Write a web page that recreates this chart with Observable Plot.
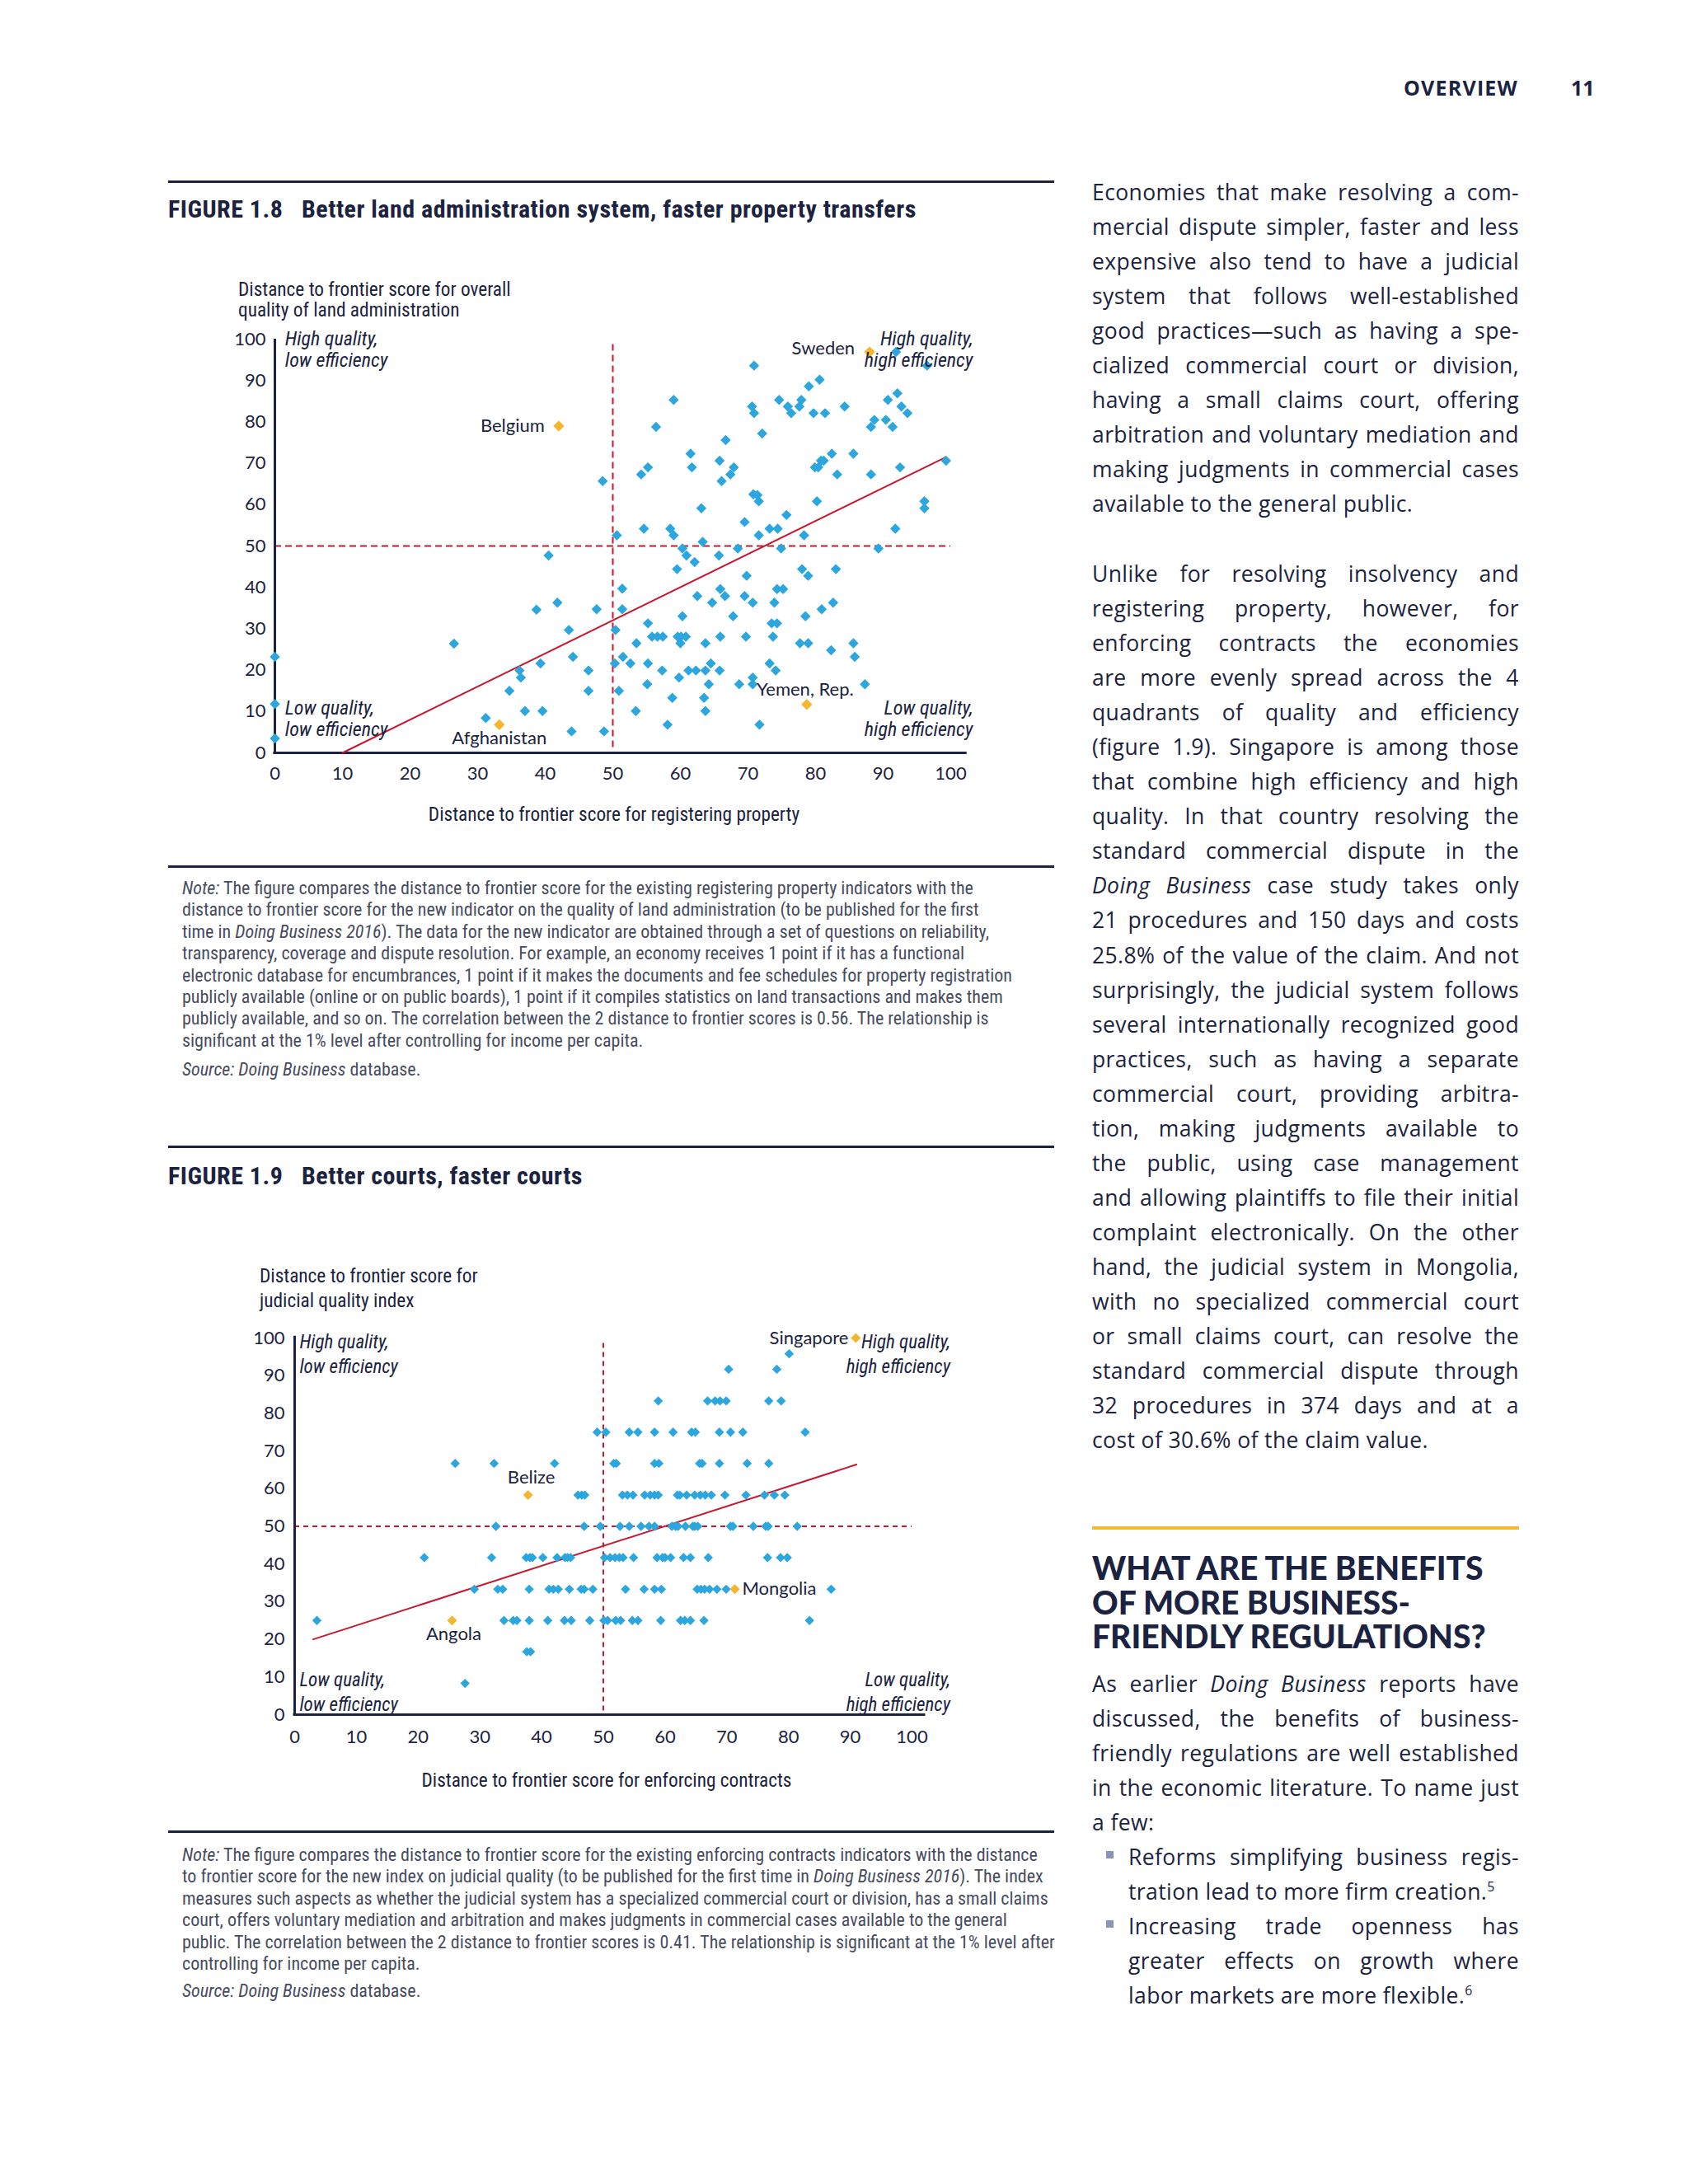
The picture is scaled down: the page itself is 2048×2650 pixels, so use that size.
<!DOCTYPE html>
<html><head><meta charset="utf-8">
<script src="https://cdn.jsdelivr.net/npm/d3@7"></script>
<script src="https://cdn.jsdelivr.net/npm/@observablehq/plot@0.6"></script>
<style>
html,body{margin:0;padding:0;background:#fff;}
#page{position:relative;width:2048px;height:2650px;background:#fff;overflow:hidden;color:#1b2340;font-family:"Open Sans",sans-serif;}
.abs{position:absolute;white-space:nowrap;}
.cond{font-family:"Liberation Sans Narrow","Roboto Condensed","DejaVu Sans Condensed","Roboto",sans-serif;}
.rule{position:absolute;left:204px;width:1075px;height:3px;background:#1b2340;}
.figno{font-weight:700;font-size:30px;line-height:34px;letter-spacing:0.5px;}
.ytitle{font-size:23.3px;color:#1b2340;}
.note{position:absolute;left:221px;font-size:22px;line-height:26.4px;color:#474c60;white-space:nowrap;}
.body{position:absolute;left:1325px;width:518px;font-size:26.5px;letter-spacing:0.4px;color:#1b2340;}
.body .ln{height:42.05px;line-height:42.05px;white-space:nowrap;}
.body .j{display:flex;justify-content:space-between;}
.head{position:absolute;left:1325px;font-family:"Lato","Open Sans",sans-serif;font-weight:900;font-size:39px;line-height:41.5px;color:#1b2340;white-space:nowrap;}
.bul{position:absolute;width:9px;height:9px;background:#8a93b8;}
sup{font-size:60%;line-height:0;vertical-align:super;}
</style></head>
<body>
<div id="page"></div>
<script>
// ---------------- DATA ----------------
const xTicks = [0,10,20,30,40,50,60,70,80,90,100];
const yTicks = [0,10,20,30,40,50,60,70,80,90,100];

// Figure 1.8: [registering property DTF, quality of land administration DTF]
const landPoints = [
 [56.4,78.8],[48.5,65.7],[54.2,67.3],[55.2,69.0],[50.6,52.6],[54.6,54.2],[40.5,47.7],[51.4,39.7],
 [91.9,96.9],[96.5,93.6],[70.9,93.6],[80.6,90.2],[79.0,88.6],[59.0,85.3],[74.6,85.3],[77.9,85.3],
 [70.6,83.7],[70.9,82.1],[75.9,83.7],[76.4,82.1],[77.6,83.7],[79.7,82.1],[81.4,82.1],[84.3,83.7],
 [92.1,86.9],[90.7,85.3],[92.7,83.7],[93.6,82.1],[88.7,80.5],[88.2,78.8],[90.4,80.5],[91.4,78.8],
 [72.1,77.2],[66.7,75.6],[61.5,72.3],[65.8,70.6],[61.7,69.0],[67.9,69.0],[67.4,67.3],[66.1,65.7],
 [82.4,72.3],[85.6,72.3],[80.8,70.6],[81.2,70.6],[79.9,69.0],[80.4,69.0],[83.2,67.3],[88.2,67.3],
 [92.5,69.0],[99.3,70.6],[70.8,62.5],[71.4,62.3],[71.6,60.8],[80.2,60.8],[96.1,60.8],[96.1,59.1],
 [63.1,59.1],[75.7,57.5],[69.5,55.8],[58.5,54.2],[59.0,52.6],[73.2,54.2],[74.4,54.2],[71.6,52.6],
 [78.3,52.6],[91.8,54.2],[63.3,51.0],[60.3,49.4],[60.9,47.7],[62.1,46.1],[59.5,44.4],[65.7,47.7],
 [68.5,49.4],[74.9,49.4],[69.8,42.8],[78.0,44.4],[78.9,42.8],[83.0,44.4],[89.3,49.4],[65.9,39.6],
 [74.3,39.6],[75.2,39.6],[66.6,37.9],[62.5,37.9],[69.5,37.9],[64.7,36.3],[70.7,36.3],[73.9,36.3],
 [47.6,34.7],[51.4,34.7],[60.3,33.0],[67.8,33.0],[78.5,33.0],[80.9,34.7],[82.6,36.3],[55.2,31.3],
 [73.5,31.3],[74.3,31.3],[50.4,29.7],[55.8,28.1],[56.6,28.1],[57.4,28.1],[59.6,28.1],[60.1,28.1],
 [60.8,28.1],[60.0,26.5],[53.5,26.5],[63.7,26.5],[65.9,28.1],[69.7,28.1],[73.7,28.1],[77.7,26.5],
 [78.9,26.5],[85.6,26.5],[82.3,24.8],[85.8,23.2],[51.5,23.2],[46.4,19.9],[50.3,21.6],[52.6,21.6],
 [55.2,21.6],[57.3,19.9],[59.8,18.2],[61.2,19.9],[62.3,19.9],[63.7,19.9],[64.5,21.6],[65.8,19.9],
 [64.2,16.6],[55.1,16.6],[50.9,15.0],[46.4,15.0],[58.8,13.3],[63.5,13.3],[53.4,10.1],[63.7,10.1],
 [58.1,6.8],[48.7,5.2],[71.7,6.8],[68.7,16.6],[70.7,18.2],[70.7,16.6],[73.2,21.6],[74.1,19.9],
 [87.3,16.6],[0,23.2],[0,11.8],[0,3.5],[26.5,26.4],[38.7,34.6],[41.8,36.3],[43.5,29.7],
 [36.2,19.9],[36.4,18.2],[39.3,21.6],[44.1,23.2],[34.7,15.0],[37.0,10.1],[39.6,10.1],[31.2,8.4],
 [43.9,5.2]
];
const landHighlights = [
 {name:"Belgium", x:42.0, y:79.0},
 {name:"Sweden", x:88.0, y:96.9},
 {name:"Afghanistan", x:33.2, y:6.8},
 {name:"Yemen, Rep.", x:78.7, y:11.7}
];
const landFit = [[10,0],[99.3,71.5]];

// Figure 1.9: judicial quality rows (y) and enforcing contracts DTF (x)
const courtRowY = [8.3, 16.7, 25, 33.3, 41.7, 50, 58.3, 66.7, 75, 83.3, 91.7, 95.8];
const courtRowX = [
 [27.6],
 [37.6,38.2],
 [3.6,33.9,35.4,36.0,38.0,41.0,43.7,44.8,47.8,50.1,50.7,52.0,52.8,54.7,55.6,59.3,62.5,63.2,64.1,66.3,83.4],
 [29.1,32.9,33.7,38.0,41.2,41.9,42.7,44.5,46.4,46.9,48.3,53.6,56.6,58.3,59.4,65.2,65.8,66.4,67.2,68.4,69.9,86.9],
 [21.0,31.9,37.5,38.1,38.5,40.2,42.5,43.8,44.2,44.7,50.2,51.1,51.9,52.6,53.2,54.9,58.7,59.6,60.0,60.9,63.0,64.1,67.0,76.6,78.7,79.8],
 [32.6,46.9,49.5,52.7,54.2,56.1,57.4,58.3,61.1,61.7,62.1,63.3,64.5,64.8,65.3,70.6,71.0,74.3,76.3,76.7,81.4],
 [45.9,46.5,47.0,53.1,53.9,54.8,56.7,57.6,58.3,58.9,62.0,62.4,63.5,64.8,65.7,66.5,67.5,69.7,73.1,76.1,77.7,79.4],
 [26.0,32.3,42.1,51.7,52.1,58.3,59.0,65.6,66.0,68.8,73.3,76.8],
 [49.0,50.4,54.2,55.6,58.3,61.3,64.3,64.9,68.8,70.6,72.6,82.7],
 [58.9,66.9,68.1,68.9,69.9,76.8,78.8],
 [70.3,78.1],
 [80.1]
];
const courtHighlights = [
 {name:"Singapore", x:90.9, y:100},
 {name:"Belize", x:37.8, y:58.3},
 {name:"Mongolia", x:71.3, y:33.3},
 {name:"Angola", x:25.5, y:25}
];
const courtFit = [[3,20],[91,66.4]];

// ---------------- STYLE ----------------
const blue = "#2ba6df", orange = "#f5b52e", red = "#c8182f", navy = "#1b2340";
const narrow = '"Liberation Sans Narrow","Roboto Condensed","DejaVu Sans Condensed",Roboto,sans-serif';
const page = document.getElementById("page");

function el(html, cls, style) {
  const d = document.createElement("div");
  d.className = cls || "abs";
  d.innerHTML = html;
  Object.assign(d.style, style || {});
  page.appendChild(d);
  return d;
}

// header
el("OVERVIEW", "abs", {left:"1703px", top:"90px", fontSize:"25px", fontWeight:"700", letterSpacing:"1.2px", lineHeight:"32px"});
el("11", "abs", {left:"1906px", top:"90px", fontSize:"25px", fontWeight:"700", lineHeight:"32px"});

// ---------------- FIGURE 1.8 ----------------
el("", "rule", {top:"219px"});
el("FIGURE 1.8", "abs cond figno", {left:"204px", top:"237px"});
el("Better land administration system, faster property transfers", "abs cond figno", {left:"366px", top:"237px"});
el("Distance to frontier score for overall<br>quality of land administration", "abs cond ytitle", {left:"289px", top:"339px", lineHeight:"25px"});

function quadLabels(opts) {
  const base = {fontStyle:"italic", fontSize:opts.fs, fontFamily:narrow, fill:navy, lineAnchor:"middle", lineHeight:opts.lh};
  return [
    Plot.text(["High quality,\nlow efficiency"], {...base, x:opts.xl, y:opts.yt, textAnchor:"start"}),
    Plot.text(["High quality,\nhigh efficiency"], {...base, x:opts.xr, y:opts.yt, textAnchor:"end"}),
    Plot.text(["Low quality,\nlow efficiency"], {...base, x:opts.xl, y:opts.yb, textAnchor:"start"}),
    Plot.text(["Low quality,\nhigh efficiency"], {...base, x:opts.xr, y:opts.yb, textAnchor:"end"})
  ];
}
function label(data, name, o) {
  return Plot.text(data.filter(d => d.name === name), {x:"x", y:"y", text:"name", fill:navy, fontSize:22, fontFamily:"Lato, sans-serif", ...o});
}

const fig18 = Plot.plot({
  width: 980, height: 640,
  marginLeft: 103, marginRight: 57, marginTop: 31, marginBottom: 107,
  style: {background:"transparent", color:navy, fontFamily:"Lato, sans-serif", fontSize:"22px", overflow:"visible"},
  x: {domain:[0,100], ticks:xTicks, tickSize:0, tickPadding:17, label:null},
  y: {domain:[0,100], ticks:yTicks, tickSize:0, tickPadding:11, label:null},
  marks: [
    Plot.ruleX([50], {y1:1.3, y2:99, stroke:red, strokeWidth:2, strokeDasharray:"8,5"}),
    Plot.ruleY([50], {x1:0, x2:100, stroke:red, strokeWidth:2, strokeDasharray:"8,5"}),
    Plot.ruleX([0], {y1:0, y2:100, stroke:navy, strokeWidth:3}),
    Plot.ruleY([0], {x1:-0.2, x2:102.4, stroke:navy, strokeWidth:3}),
    Plot.line(landFit, {x:d => d[0], y:d => d[1], stroke:red, strokeWidth:2}),
    Plot.dot(landPoints, {x:d => d[0], y:d => d[1], symbol:"diamond2", r:5.6, fill:blue}),
    Plot.dot(landHighlights, {x:"x", y:"y", symbol:"diamond2", r:6, fill:orange}),
    ...quadLabels({xl:1.5, xr:103.3, yt:97.6, yb:8.4, lh:1.1, fs:24}),
    label(landHighlights, "Belgium", {textAnchor:"end", dx:-17}),
    label(landHighlights, "Sweden", {textAnchor:"end", dx:-18, dy:-4}),
    label(landHighlights, "Afghanistan", {dy:17}),
    label(landHighlights, "Yemen, Rep.", {dx:-2, dy:-18})
  ]
});
const w18 = document.createElement("div");
Object.assign(w18.style, {position:"absolute", left:"230px", top:"380px"});
w18.appendChild(fig18);
page.appendChild(w18);

el("Distance to frontier score for registering property", "abs cond ytitle", {left:"745px", top:"975px", transform:"translateX(-50%)", lineHeight:"26px"});
el("", "rule", {top:"1050px"});

const note18 = [
 "<i>Note:</i> The figure compares the distance to frontier score for the existing registering property indicators with the",
 "distance to frontier score for the new indicator on the quality of land administration (to be published for the first",
 "time in <i>Doing Business 2016</i>). The data for the new indicator are obtained through a set of questions on reliability,",
 "transparency, coverage and dispute resolution. For example, an economy receives 1 point if it has a functional",
 "electronic database for encumbrances, 1 point if it makes the documents and fee schedules for property registration",
 "publicly available (online or on public boards), 1 point if it compiles statistics on land transactions and makes them",
 "publicly available, and so on. The correlation between the 2 distance to frontier scores is 0.56. The relationship is",
 "significant at the 1% level after controlling for income per capita."
];
el(note18.join("<br>"), "note cond", {top:"1065px"});
el("<i>Source: Doing Business</i> database.", "note cond", {top:"1285px"});

// ---------------- FIGURE 1.9 ----------------
el("", "rule", {top:"1390px"});
el("FIGURE 1.9", "abs cond figno", {left:"204px", top:"1410px"});
el("Better courts, faster courts", "abs cond figno", {left:"366px", top:"1410px"});
el("Distance to frontier score for<br>judicial quality index", "abs cond ytitle", {left:"315px", top:"1533px", lineHeight:"30px"});

const courtPoints = courtRowY.flatMap((y, i) => courtRowX[i].map(x => [x, y]));

const fig19 = Plot.plot({
  width: 920, height: 560,
  marginLeft: 107, marginRight: 64, marginTop: 33, marginBottom: 70,
  style: {background:"transparent", color:navy, fontFamily:"Lato, sans-serif", fontSize:"22px", overflow:"visible"},
  x: {domain:[0,100], ticks:xTicks, tickSize:0, tickPadding:19, label:null},
  y: {domain:[0,100], ticks:yTicks, tickSize:0, tickPadding:12, label:null},
  marks: [
    Plot.ruleX([50], {y1:1, y2:99.2, stroke:red, strokeWidth:2, strokeDasharray:"6,5"}),
    Plot.ruleY([50], {x1:0, x2:100, stroke:red, strokeWidth:2, strokeDasharray:"6,5"}),
    Plot.ruleX([0], {y1:0, y2:100.5, stroke:navy, strokeWidth:3}),
    Plot.ruleY([0], {x1:-0.2, x2:102.2, stroke:navy, strokeWidth:3}),
    Plot.line(courtFit, {x:d => d[0], y:d => d[1], stroke:red, strokeWidth:2}),
    Plot.dot(courtPoints, {x:d => d[0], y:d => d[1], symbol:"diamond2", r:5.1, fill:blue}),
    Plot.dot(courtHighlights, {x:"x", y:"y", symbol:"diamond2", r:5.4, fill:orange}),
    ...quadLabels({xl:0.8, xr:106.2, yt:96.1, yb:6.4, lh:1.3, fs:23}),
    label(courtHighlights, "Singapore", {textAnchor:"end", dx:-9}),
    label(courtHighlights, "Belize", {dx:4, dy:-21}),
    label(courtHighlights, "Mongolia", {textAnchor:"start", dx:9}),
    label(courtHighlights, "Angola", {dx:2, dy:17})
  ]
});
const w19 = document.createElement("div");
Object.assign(w19.style, {position:"absolute", left:"250px", top:"1590px"});
w19.appendChild(fig19);
page.appendChild(w19);

el("Distance to frontier score for enforcing contracts", "abs cond ytitle", {left:"736px", top:"2147px", transform:"translateX(-50%)", lineHeight:"26px"});
el("", "rule", {top:"2221px"});

const note19 = [
 "<i>Note:</i> The figure compares the distance to frontier score for the existing enforcing contracts indicators with the distance",
 "to frontier score for the new index on judicial quality (to be published for the first time in <i>Doing Business 2016</i>). The index",
 "measures such aspects as whether the judicial system has a specialized commercial court or division, has a small claims",
 "court, offers voluntary mediation and arbitration and makes judgments in commercial cases available to the general",
 "public. The correlation between the 2 distance to frontier scores is 0.41. The relationship is significant at the 1% level after",
 "controlling for income per capita."
];
el(note19.join("<br>"), "note cond", {top:"2238px"});
el("<i>Source: Doing Business</i> database.", "note cond", {top:"2403px"});

// ---------------- RIGHT COLUMN TEXT ----------------
function fmt(w) {
  return w.replace(/\*([^*]+)\*/g, "<i>$1</i>").replace(/\^(\d+)/g, "<sup>$1</sup>");
}
function para(lines, top, left, width) {
  const box = el("", "body", {top: top + "px", left: left + "px", width: width + "px"});
  lines.forEach((t, i) => {
    const d = document.createElement("div");
    const last = i === lines.length - 1;
    if (!last) {
      d.className = "ln j";
      const words = t.split(" ");
      d.innerHTML = words.map(w => "<span>" + fmt(w) + "</span>").join("");
      box.appendChild(d);
      // keep at least a small word gap: tighten letter-spacing if the line is too long
      const spans = Array.from(d.children);
      const natural = spans.reduce((s, e) => s + e.getBoundingClientRect().width, 0);
      const need = natural + (spans.length - 1) * 7;
      if (need > width) {
        const chars = t.replace(/[ *^]/g, "").length;
        const ls = 0.4 - (need - width) / chars;
        d.style.letterSpacing = ls.toFixed(2) + "px";
      }
    } else {
      d.className = "ln";
      d.innerHTML = fmt(t);
      box.appendChild(d);
    }
  });
}
para([
 "Economies that make resolving a com-",
 "mercial dispute simpler, faster and less",
 "expensive also tend to have a judicial",
 "system that follows well-established",
 "good practices—such as having a spe-",
 "cialized commercial court or division,",
 "having a small claims court, offering",
 "arbitration and voluntary mediation and",
 "making judgments in commercial cases",
 "available to the general public."
], 212, 1325, 518);
para([
 "Unlike for resolving insolvency and",
 "registering property, however, for",
 "enforcing contracts the economies",
 "are more evenly spread across the 4",
 "quadrants of quality and efficiency",
 "(figure 1.9). Singapore is among those",
 "that combine high efficiency and high",
 "quality. In that country resolving the",
 "standard commercial dispute in the",
 "*Doing* *Business* case study takes only",
 "21 procedures and 150 days and costs",
 "25.8% of the value of the claim. And not",
 "surprisingly, the judicial system follows",
 "several internationally recognized good",
 "practices, such as having a separate",
 "commercial court, providing arbitra-",
 "tion, making judgments available to",
 "the public, using case management",
 "and allowing plaintiffs to file their initial",
 "complaint electronically. On the other",
 "hand, the judicial system in Mongolia,",
 "with no specialized commercial court",
 "or small claims court, can resolve the",
 "standard commercial dispute through",
 "32 procedures in 374 days and at a",
 "cost of 30.6% of the claim value."
], 675, 1325, 518);

el("", "abs", {left:"1325px", top:"1852px", width:"518px", height:"4px", background:"#f5b82e"});
el("WHAT ARE THE BENEFITS<br>OF MORE BUSINESS-<br>FRIENDLY REGULATIONS?", "head", {top:"1882px"});

para([
 "As earlier *Doing* *Business* reports have",
 "discussed, the benefits of business-",
 "friendly regulations are well established",
 "in the economic literature. To name just",
 "a few:"
], 2022, 1325, 518);
para([
 "Reforms simplifying business regis-",
 "tration lead to more firm creation.^5"
], 2232, 1369, 474);
para([
 "Increasing trade openness has",
 "greater effects on growth where",
 "labor markets are more flexible.^6"
], 2316, 1369, 474);
el("", "bul", {left:"1342px", top:"2246px"});
el("", "bul", {left:"1342px", top:"2330px"});
</script>
</body></html>
